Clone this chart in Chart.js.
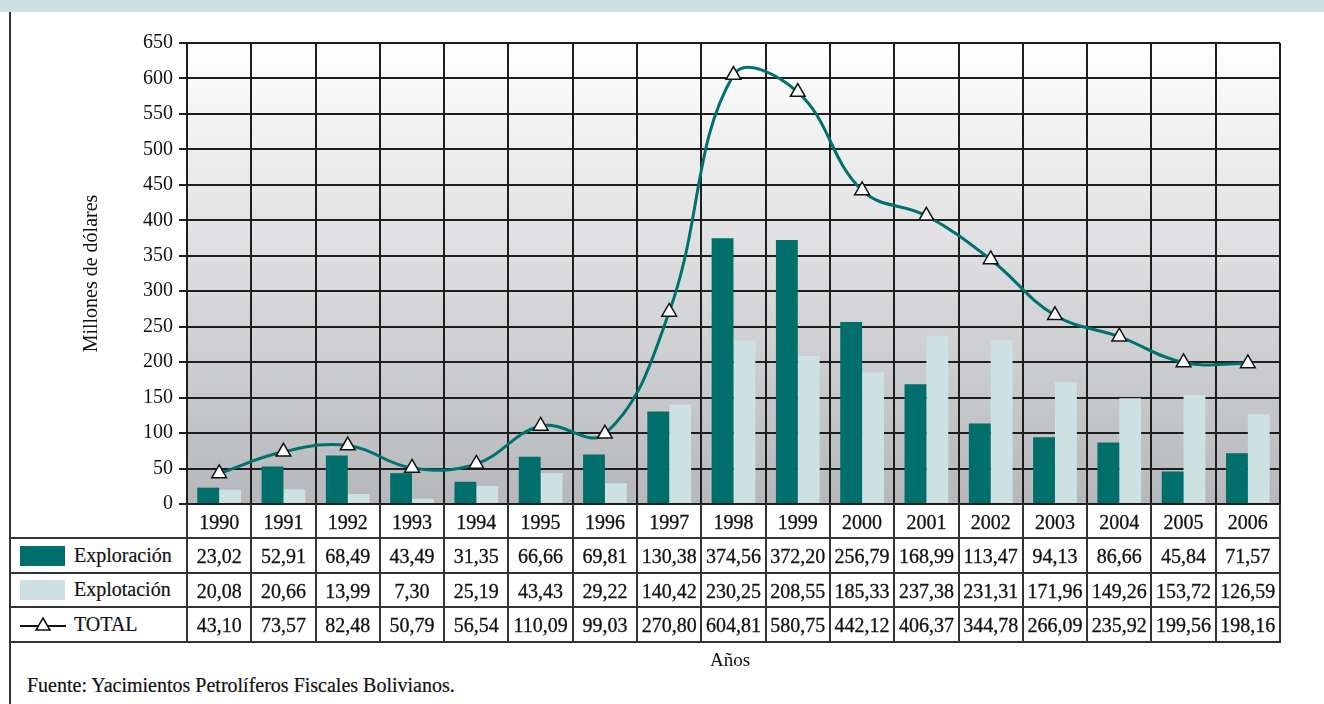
<!DOCTYPE html>
<html>
<head>
<meta charset="utf-8">
<script src="https://cdn.jsdelivr.net/npm/chart.js@4"></script>
<style>
    body { margin: 0; background: #fff; font-family: "Liberation Serif", serif; color: #111; }
    #wrap { position: relative; width: 1324px; height: 704px; overflow: hidden; }
    #banda { position: absolute; left: 0; top: 0; width: 1324px; height: 12px; background: #cde1e3; }
    #marco { position: absolute; left: 9px; top: 12px; width: 2px; height: 692px; background: #333; }
    #grafico { position: absolute; left: 0; top: 0; }
    .linea { position: absolute; background: #333; }
    .celda { position: absolute; font-size: 20px; text-align: center; white-space: nowrap; -webkit-text-stroke: 0.3px #111; }
    .etiqueta { position: absolute; font-size: 20px; white-space: nowrap; display: flex; align-items: center; -webkit-text-stroke: 0.2px #111; }
    .muestra { display: inline-block; width: 45px; height: 20px; margin-right: 9px; }
    #anios { position: absolute; left: 0; width: 1460px; top: 649px; font-size: 19px; text-align: center; }
    #fuente { position: absolute; left: 27px; top: 674px; font-size: 20px; -webkit-text-stroke: 0.2px #111; }
</style>
</head>
<body>
<div id="wrap">
    <div id="banda"></div>
    <canvas id="grafico" width="1324" height="522"></canvas>
    <div id="tabla"></div>
    <div id="marco"></div>
    <div id="anios">Años</div>
    <div id="fuente">Fuente: Yacimientos Petrolíferos Fiscales Bolivianos.</div>
</div>
<script>
// datos (millones de dólares)
var anios = ['1990', '1991', '1992', '1993', '1994', '1995', '1996', '1997', '1998',
    '1999', '2000', '2001', '2002', '2003', '2004', '2005', '2006'];
var exploracion = [23.02, 52.91, 68.49, 43.49, 31.35, 66.66, 69.81, 130.38, 374.56,
    372.20, 256.79, 168.99, 113.47, 94.13, 86.66, 45.84, 71.57];
var explotacion = [20.08, 20.66, 13.99, 7.30, 25.19, 43.43, 29.22, 140.42, 230.25,
    208.55, 185.33, 237.38, 231.31, 171.96, 149.26, 153.72, 126.59];
var total = [43.10, 73.57, 82.48, 50.79, 56.54, 110.09, 99.03, 270.80, 604.81,
    580.75, 442.12, 406.37, 344.78, 266.09, 235.92, 199.56, 198.16];
var yMin = 0, yMax = 650, yPaso = 50;

var colorExplo = '#006e6b';
var colorExplot = '#cde1e3';
var colorLinea = '#00726e';
var colorGrid = '#1e1e1e';

var fondo = {
    id: 'fondo',
    beforeDraw: function (chart) {
        var a = chart.chartArea;
        var c = chart.ctx;
        var g = c.createLinearGradient(0, a.top, 0, a.bottom);
        g.addColorStop(0, '#ffffff');
        g.addColorStop(1, '#b6b7bb');
        c.save();
        c.fillStyle = g;
        c.fillRect(a.left, a.top, a.right - a.left, a.bottom - a.top);
        c.restore();
    }
};

var ctx = document.getElementById('grafico');
var chart = new Chart(ctx, {
    type: 'bar',
    data: {
        labels: anios,
        datasets: [
            {
                type: 'line',
                label: 'TOTAL',
                data: total,
                borderColor: colorLinea,
                borderWidth: 3,
                tension: 0.4,
                fill: false,
                pointStyle: 'triangle',
                pointRadius: 8.5,
                pointBackgroundColor: '#ffffff',
                pointBorderColor: '#111111',
                pointBorderWidth: 1.5,
                order: 0
            },
            {
                label: 'Exploración',
                data: exploracion,
                backgroundColor: colorExplo,
                categoryPercentage: 0.68,
                barPercentage: 1,
                order: 1
            },
            {
                label: 'Explotación',
                data: explotacion,
                backgroundColor: colorExplot,
                categoryPercentage: 0.68,
                barPercentage: 1,
                order: 1
            }
        ]
    },
    options: {
        responsive: false,
        animation: false,
        layout: { padding: { top: 43, right: 44, left: 80, bottom: 3 } },
        plugins: {
            legend: { display: false },
            tooltip: { enabled: false }
        },
        scales: {
            x: {
                grid: { color: colorGrid, lineWidth: 2, drawTicks: false, offset: true },
                border: { color: colorGrid, width: 2 },
                ticks: { display: false }
            },
            y: {
                min: yMin,
                max: yMax,
                afterFit: function (scale) { scale.width = 107; },
                ticks: {
                    stepSize: yPaso,
                    padding: 6,
                    color: '#111',
                    font: { family: 'Liberation Serif', size: 20 }
                },
                grid: { color: colorGrid, lineWidth: 2, tickLength: 8 },
                border: { color: colorGrid, width: 2 },
                title: {
                    display: true,
                    text: 'Millones de dólares',
                    color: '#111',
                    font: { family: 'Liberation Serif', size: 20 },
                    padding: { top: 0, bottom: 0 }
                }
            }
        }
    },
    plugins: [fondo]
});

// tabla de datos debajo del gráfico, alineada con la escala x
function fmt(v) {
    return v.toFixed(2).replace('.', ',');
}

function armarTabla() {
    var tabla = document.getElementById('tabla');
    var area = chart.chartArea;
    var xs = chart.scales.x;
    var ancho = (area.right - area.left) / anios.length;
    var altoFila = 34.4;
    var arriba = area.bottom;
    var abajo = arriba + altoFila * 4;
    var html = '';

    // lineas horizontales
    for (var f = 1; f <= 4; f++) {
        var y = arriba + altoFila * f;
        html += '<div class="linea" style="left:9px;top:' + (y - 1) + 'px;width:' + (area.right - 9 + 1) + 'px;height:2px"></div>';
    }
    // lineas verticales
    for (var k = 0; k <= anios.length; k++) {
        var x = area.left + ancho * k;
        html += '<div class="linea" style="left:' + (x - 1) + 'px;top:' + arriba + 'px;width:2px;height:' + (abajo - arriba) + 'px"></div>';
    }

    var filas = [anios, exploracion.map(fmt), explotacion.map(fmt), total.map(fmt)];
    for (var r = 0; r < filas.length; r++) {
        var top = arriba + altoFila * r;
        for (var i = 0; i < anios.length; i++) {
            var cx = xs.getPixelForValue(i);
            html += '<div class="celda" style="left:' + (cx - ancho / 2) + 'px;width:' + ancho + 'px;top:' + top + 'px;height:' + altoFila + 'px;line-height:' + (altoFila + 2) + 'px">' + filas[r][i] + '</div>';
        }
    }

    var simbolos = [
        '<span class="muestra" style="background:' + colorExplo + '"></span>',
        '<span class="muestra" style="background:' + colorExplot + '"></span>',
        '<svg width="46" height="16" style="margin-right:8px" viewBox="0 0 46 16"><line x1="0" y1="10" x2="46" y2="10" stroke="#111" stroke-width="2"/><polygon points="23,2 30,14 16,14" fill="#fff" stroke="#111" stroke-width="1.5"/></svg>'
    ];
    var nombres = ['Exploración', 'Explotación', 'TOTAL'];
    for (var j = 0; j < nombres.length; j++) {
        var t = arriba + altoFila * (j + 1);
        html += '<div class="etiqueta" style="left:20px;top:' + t + 'px;height:' + altoFila + 'px">' + simbolos[j] + nombres[j] + '</div>';
    }

    tabla.innerHTML = html;
}

armarTabla();
</script>
</body>
</html>
